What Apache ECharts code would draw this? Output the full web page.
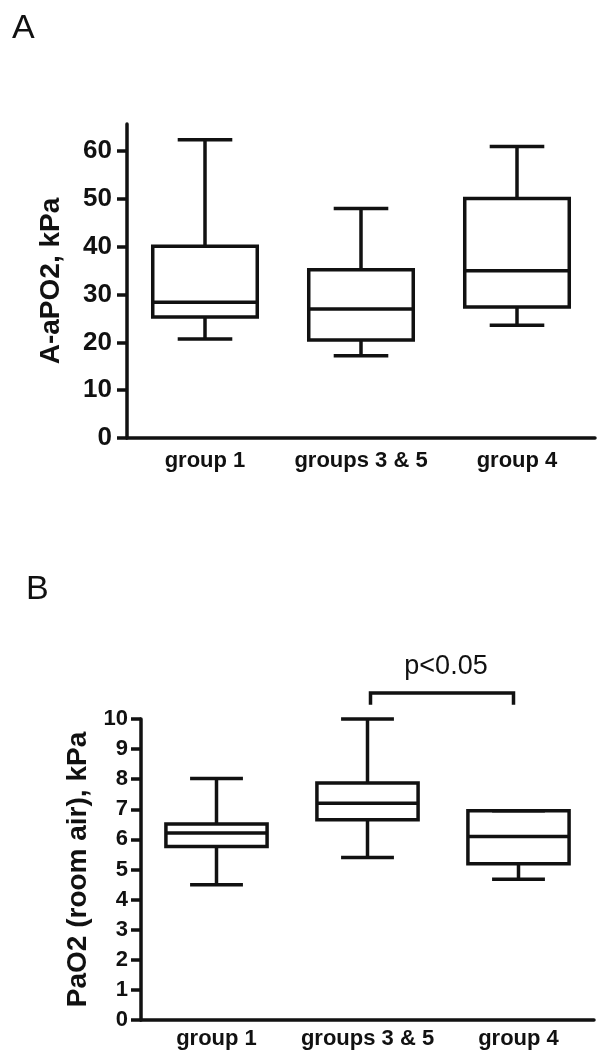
<!DOCTYPE html>
<html><head><meta charset="utf-8">
<script src="https://cdn.jsdelivr.net/npm/echarts@6/dist/echarts.min.js"></script>
<style>html,body{margin:0;padding:0;background:#fff}#c{width:600px;height:1059px}</style>
</head><body><div id="c"></div>
<script>
const categories = ['group 1', 'groups 3 & 5', 'group 4'];
// Panel A: A-aPO2, kPa
const aMin = [20.7, 17.2, 23.6];
const aQ1  = [25.3, 20.5, 27.4];
const aMed = [28.4, 27.0, 35.0];
const aQ3  = [40.1, 35.2, 50.1];
const aMax = [62.4, 48.0, 61.0];
// Panel B: PaO2 (room air), kPa
const bMin = [4.49, 5.40, 4.68];
const bQ1  = [5.76, 6.65, 5.19];
const bMed = [6.21, 7.20, 6.10];
const bQ3  = [6.51, 7.87, 6.95];
const bMax = [8.02, 10.0, 6.95];
const aTicks = [0, 10, 20, 30, 40, 50, 60];
const bTicks = [0, 1, 2, 3, 4, 5, 6, 7, 8, 9, 10];
// significance bracket: from category 1 to category 2
const sigFrom = 1, sigTo = 2, sigLevel = 10.86, sigLeg = 10.47, sigTextLevel = 11.73;
const sigLabel = 'p<0.05';

const FONT = 'Liberation Sans, Arial, Helvetica, sans-serif';
const INK = '#111';

function rows(mn, q1, md, q3, mx) {
  return categories.map((c, i) => [i, mn[i], q1[i], md[i], q3[i], mx[i]]);
}

function boxRender(params, api) {
  const x = api.value(0);
  const lo = api.coord([x, api.value(1)]);
  const q1 = api.coord([x, api.value(2)]);
  const md = api.coord([x, api.value(3)]);
  const q3 = api.coord([x, api.value(4)]);
  const hi = api.coord([x, api.value(5)]);
  const band = api.size([1, 0])[0];
  const bw = band * 0.67 / 2, cw = band * 0.35 / 2;
  const cx = lo[0];
  const ls = { stroke: INK, lineWidth: 3.5, fill: null };
  const line = (x1, y1, x2, y2) => ({ type: 'line', shape: { x1, y1, x2, y2 }, style: ls });
  const ch = [];
  ch.push(line(cx, q3[1], cx, hi[1]));
  ch.push(line(cx - cw, hi[1], cx + cw, hi[1]));
  ch.push(line(cx, q1[1], cx, lo[1]));
  ch.push(line(cx - cw, lo[1], cx + cw, lo[1]));
  ch.push({ type: 'rect', shape: { x: cx - bw, y: q3[1], width: 2 * bw, height: q1[1] - q3[1] },
    style: { stroke: INK, lineWidth: 3.5, fill: 'rgba(0,0,0,0)' } });
  ch.push(line(cx - bw, md[1], cx + bw, md[1]));
  return { type: 'group', children: ch };
}

function bracketRender(params, api) {
  const a = api.coord([api.value(0), api.value(2)]);
  const b = api.coord([api.value(1), api.value(2)]);
  const la = api.coord([api.value(0), api.value(3)]);
  const ty = api.coord([api.value(0), api.value(4)])[1];
  const tx = (a[0] + b[0]) / 2 + 3;
  const ls = { stroke: INK, lineWidth: 3.5, fill: null };
  return { type: 'group', children: [
    { type: 'polyline', shape: { points: [[a[0] + 3, la[1]], [a[0] + 3, a[1]], [b[0] - 5, b[1]], [b[0] - 5, la[1]]] }, style: ls },
    { type: 'text', x: tx, y: ty, style: { text: sigLabel, fontSize: 27, fontFamily: FONT, fill: INK, align: 'center', verticalAlign: 'middle' } }
  ] };
}

function xAx(gi, margin) {
  return {
    gridIndex: gi, type: 'category', data: categories,
    axisLine: { lineStyle: { color: INK, width: 3.5 } },
    axisTick: { alignWithLabel: true, length: 10, lineStyle: { color: INK, width: 3.5 } },
    axisLabel: { interval: 0, fontSize: 22, fontWeight: 'bold', color: INK, fontFamily: FONT, margin: margin },
    splitLine: { show: false }
  };
}
function yAx(gi, name, max, ticks, fs, gap, lm) {
  return {
    gridIndex: gi, type: 'value', min: 0, max: max,
    name: name, nameLocation: 'middle', nameRotate: 90, nameGap: gap,
    nameTextStyle: { fontSize: 28, fontWeight: 'bold', color: INK, fontFamily: FONT },
    axisLine: { show: true, lineStyle: { color: INK, width: 3.5 } },
    axisTick: { show: true, length: 10, customValues: ticks, lineStyle: { color: INK, width: 3.5 } },
    axisLabel: { fontSize: fs, fontWeight: 'bold', color: INK, fontFamily: FONT, margin: lm, customValues: ticks },
    splitLine: { show: false }
  };
}

const chart = echarts.init(document.getElementById('c'), null, { renderer: 'canvas' });
chart.setOption({
  backgroundColor: '#fff',
  animation: false,
  title: [
    { text: 'A', left: 7, top: 7, textStyle: { fontSize: 34, fontWeight: 'normal', color: INK, fontFamily: FONT } },
    { text: 'B', left: 21, top: 568, textStyle: { fontSize: 34, fontWeight: 'normal', color: INK, fontFamily: FONT } }
  ],
  grid: [
    { left: 127, top: 124, width: 468, height: 314 },
    { left: 141, top: 719, width: 453, height: 301 }
  ],
  xAxis: [xAx(0, 12), xAx(1, 8)],
  yAxis: [
    yAx(0, 'A-aPO2, kPa', 65.7, aTicks, 26, 62, 15),
    yAx(1, 'PaO2 (room air), kPa', 10, bTicks, 22, 49, 13)
  ],
  series: [
    { type: 'custom', xAxisIndex: 0, yAxisIndex: 0, renderItem: boxRender, data: rows(aMin, aQ1, aMed, aQ3, aMax) },
    { type: 'custom', xAxisIndex: 1, yAxisIndex: 1, renderItem: boxRender, data: rows(bMin, bQ1, bMed, bQ3, bMax) },
    { type: 'custom', xAxisIndex: 1, yAxisIndex: 1, clip: false, renderItem: bracketRender,
      data: [[sigFrom, sigTo, sigLevel, sigLeg, sigTextLevel]] }
  ]
});
</script></body></html>
